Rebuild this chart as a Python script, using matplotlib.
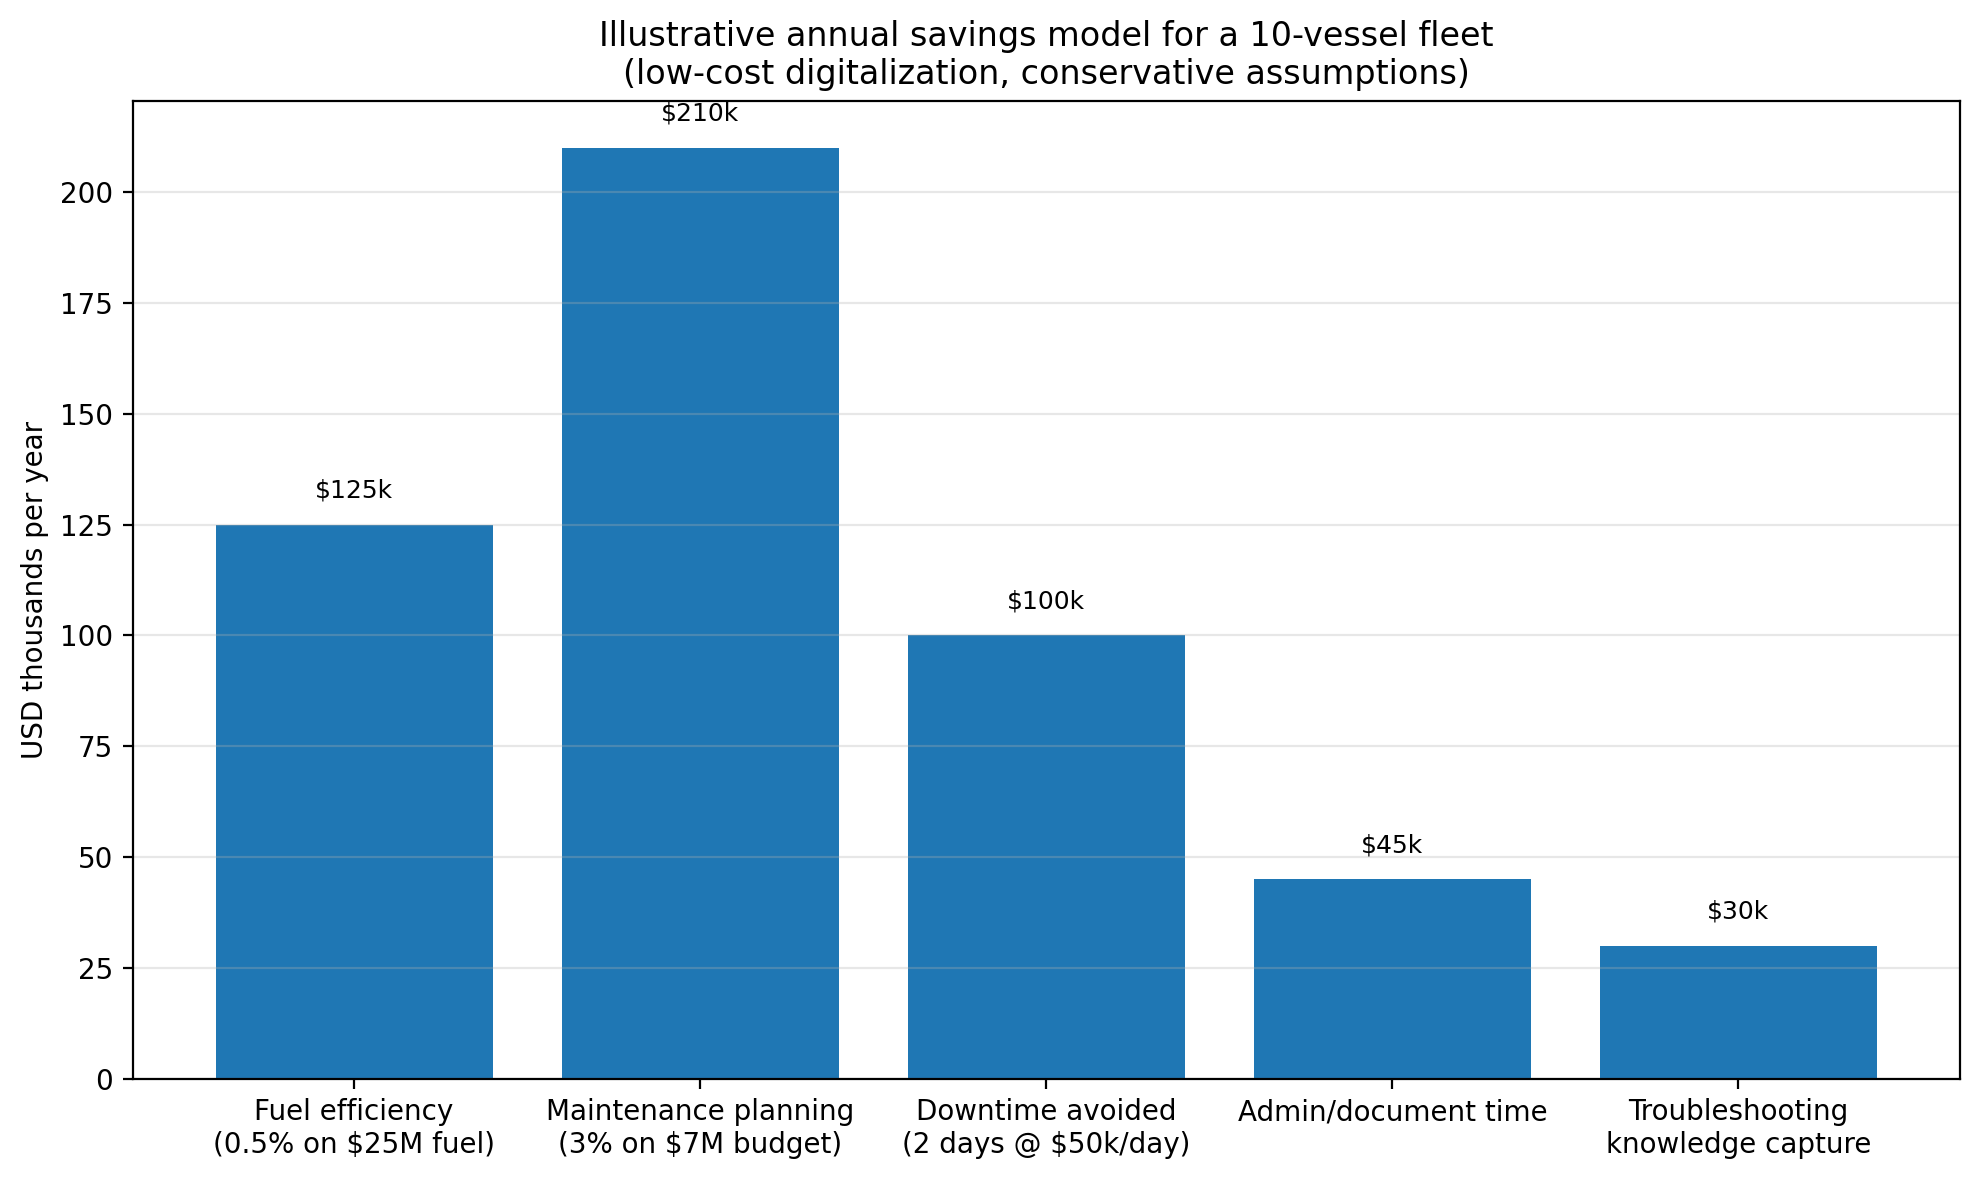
import numpy as np
import matplotlib
matplotlib.use("Agg")
import matplotlib.pyplot as plt

categories = [
    "Fuel efficiency\n(0.5% on $25M fuel)",
    "Maintenance planning\n(3% on $7M budget)",
    "Downtime avoided\n(2 days @ $50k/day)",
    "Admin/document time",
    "Troubleshooting\nknowledge capture",
]
savings_k = [125, 210, 100, 45, 30]

fig, ax = plt.subplots(figsize=(9.895, 5.9), dpi=200)
x = np.arange(len(categories))
bars = ax.bar(x, savings_k, color="#1f77b4")

# value labels above each bar
for xi, v in zip(x, savings_k):
    ax.text(xi, v + 5, f"${v}k", ha="center", va="bottom", fontsize=9)

ax.set_xticks(x)
ax.set_xticklabels(categories)
ax.set_ylabel("USD thousands per year")
ax.set_title("Illustrative annual savings model for a 10-vessel fleet\n(low-cost digitalization, conservative assumptions)")
ax.yaxis.grid(True, alpha=0.3)

fig.subplots_adjust(left=0.067, right=0.9904, bottom=0.0856, top=0.9144)
fig.savefig("out.png", dpi=200)
